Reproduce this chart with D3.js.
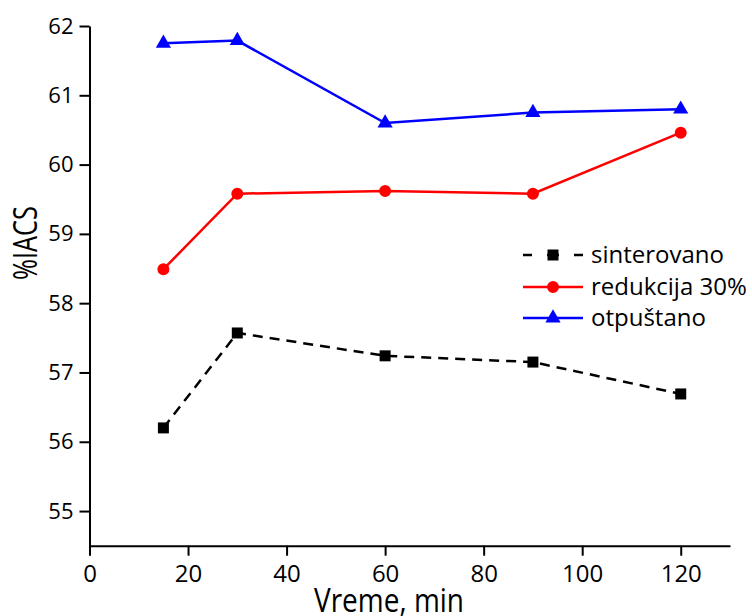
<!DOCTYPE html>
<html>
<head>
<meta charset="utf-8">
<script src="https://cdn.jsdelivr.net/npm/d3@7/dist/d3.min.js"></script>
<style>
  html, body { margin: 0; padding: 0; background: #fff; }
  svg { display: block; }
  text { font-family: "Open Sans", sans-serif; fill: #000; }
</style>
</head>
<body>
<svg id="chart" width="752" height="616"></svg>
<script>
// ---- data ----
const times = [15, 30, 60, 90, 120];
const sinterovano = [56.20, 57.57, 57.24, 57.15, 56.69];
const redukcija30 = [58.49, 59.58, 59.62, 59.58, 60.46];
const otpustano   = [61.75, 61.79, 60.60, 60.75, 60.80];
const seriesNames = ["sinterovano", "redukcija 30%", "otpuštano"];
const xTickLabels = [0, 20, 40, 60, 80, 100, 120];
const xMinorTicks = [10, 30, 50, 70, 90, 110, 130];
const yTickLabels = [55, 56, 57, 58, 59, 60, 61, 62];
const yMinorTicks = [54.5, 55.5, 56.5, 57.5, 58.5, 59.5, 60.5, 61.5];
const xTitle = "Vreme, min";
const yTitle = "%IACS";

// ---- layout ----
const svg = d3.select("#chart");
const x = d3.scaleLinear().domain([0, 130]).range([89.5, 730]);
const y = d3.scaleLinear().domain([54.5, 62]).range([545.7, 26]);

const series = [
  { name: seriesNames[0], values: sinterovano, color: "#000000", dash: "10,7", symbol: d3.symbolSquare, size: 121 },
  { name: seriesNames[1], values: redukcija30, color: "#ff0000", dash: null, symbol: d3.symbolCircle, size: 113 },
  { name: seriesNames[2], values: otpustano, color: "#0000ff", dash: null, symbol: d3.symbolTriangle, size: 100 }
];

// ---- axes ----
const gx = svg.append("g").attr("transform", `translate(0,${y.range()[0]})`);
gx.call(d3.axisBottom(x).tickValues(xMinorTicks).tickSize(5).tickSizeOuter(0).tickFormat(""));
gx.call(d3.axisBottom(x).tickValues(xTickLabels).tickSize(10).tickSizeOuter(0));
gx.selectAll("text").attr("y", 36).attr("dy", null).style("font-size", "24px");

const gy = svg.append("g").attr("transform", `translate(${x.range()[0]},0)`);
gy.call(d3.axisLeft(y).tickValues(yMinorTicks).tickSize(6).tickSizeOuter(0).tickFormat(""));
gy.call(d3.axisLeft(y).tickValues(yTickLabels).tickSize(10).tickSizeOuter(0));
gy.selectAll("text").attr("x", -16).attr("dy", "0.32em").style("font-size", "22px");

svg.selectAll(".domain").attr("stroke", "#000").attr("stroke-width", 2);
svg.selectAll(".tick line").attr("stroke", "#000").attr("stroke-width", 2);

// ---- titles ----
svg.append("text")
  .attr("x", 389).attr("y", 612)
  .attr("text-anchor", "middle")
  .attr("textLength", 150).attr("lengthAdjust", "spacingAndGlyphs")
  .style("font-size", "32px")
  .text(xTitle);

svg.append("text")
  .attr("transform", "translate(37,243) rotate(-90)")
  .attr("text-anchor", "middle")
  .attr("textLength", 74).attr("lengthAdjust", "spacingAndGlyphs")
  .style("font-size", "32px")
  .text(yTitle);

// ---- series ----
const line = d3.line().x(d => x(d[0])).y(d => y(d[1]));
series.forEach(s => {
  const pts = times.map((t, i) => [t, s.values[i]]);
  svg.append("path")
    .datum(pts)
    .attr("d", line)
    .attr("fill", "none")
    .attr("stroke", s.color)
    .attr("stroke-width", 2.5)
    .attr("stroke-dasharray", s.dash);
  svg.append("g").selectAll("path")
    .data(pts).join("path")
    .attr("transform", d => `translate(${x(d[0])},${y(d[1])})`)
    .attr("d", d3.symbol().type(s.symbol).size(s.size))
    .attr("fill", s.color);
});

// ---- legend ----
const legendRows = [255, 287, 318];
series.forEach((s, i) => {
  const g = svg.append("g").attr("transform", `translate(0,${legendRows[i]})`);
  g.append("line")
    .attr("x1", 523).attr("x2", 583).attr("y1", 0).attr("y2", 0)
    .attr("stroke", s.color).attr("stroke-width", 2.5)
    .attr("stroke-dasharray", s.dash ? "9,15,12,15,9" : null);
  g.append("path")
    .attr("transform", "translate(553,0)")
    .attr("d", d3.symbol().type(s.symbol).size(s.size))
    .attr("fill", s.color);
  g.append("text")
    .attr("x", 591).attr("y", 8)
    .style("font-size", "24px")
    .text(s.name);
});
</script>
</body>
</html>
